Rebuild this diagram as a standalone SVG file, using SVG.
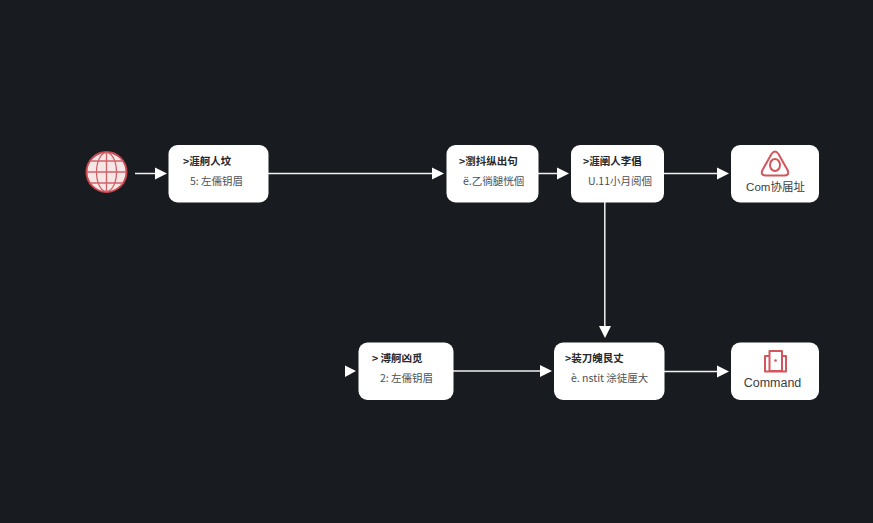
<svg xmlns="http://www.w3.org/2000/svg" width="873" height="523" viewBox="0 0 873 523">
<style>
.bg{fill:#181b20}
.box{fill:#fff}
.t1{font:600 10.5px "Noto Sans CJK SC","Liberation Sans",sans-serif;fill:#26282c}
.t2{font:10.5px "Noto Sans CJK SC","Liberation Sans",sans-serif;fill:#4d5054}
.t3{font:12px "Liberation Sans","Noto Sans CJK SC",sans-serif;fill:#3a3d42;text-anchor:middle}
.edge{stroke:#f2f2f2;stroke-width:1.5;fill:none}
.ah{fill:#fff}
.ic{fill:none;stroke:#d4565c;stroke-width:2;stroke-linejoin:round}
.gl{fill:none;stroke:#d0636a;stroke-width:1.3}
</style>
<rect class="bg" width="873" height="523"/>
<g id="connectors">
<path class="edge" d="M135 173.500H156"/><polygon class="ah" points="155,167.500 167,173.500 155,179.500"/>
<path class="edge" d="M268 173.500H433"/><polygon class="ah" points="432,167.500 444,173.500 432,179.500"/>
<path class="edge" d="M538 173.500H558"/><polygon class="ah" points="557,167.500 569,173.500 557,179.500"/>
<path class="edge" d="M664 173.500H718"/><polygon class="ah" points="717,167.500 729,173.500 717,179.500"/>
<path class="edge" d="M604.800 202V327"/><polygon class="ah" points="599,326 611,326 605,338"/>
<polygon class="ah" points="345,365.500 356,371 345,377"/>
<path class="edge" d="M453 371H541"/><polygon class="ah" points="540,365 552,371 540,377"/>
<path class="edge" d="M664 371.500H718"/><polygon class="ah" points="717,365.500 729,371.500 717,377.500"/>
</g>
<g id="node-globe">
<circle cx="106.500" cy="172" r="20" fill="#f6e6e6" stroke="#c9474f" stroke-width="2"/>
<ellipse class="gl" cx="106.500" cy="172" rx="10" ry="19.500"/>
<path class="gl" d="M106.500 152V192M87 172H126M90 161H123M90 183H123"/>
</g>
<g id="node-1">
<rect class="box" x="168.500" y="145" width="100" height="57.500" rx="9"/>
<text class="t1" x="183" y="165">&gt;涯舸人坟</text>
<text class="t2" x="190" y="184.500">5: 左儒钥眉</text>
</g>
<g id="node-2">
<rect class="box" x="446.500" y="145" width="92" height="57.500" rx="9"/>
<text class="t1" x="459" y="165">&gt;瀏抖纵出句</text>
<text class="t2" x="463" y="184.500">ё.乙徜腿恍個</text>
</g>
<g id="node-3">
<rect class="box" x="571" y="145" width="93" height="57.500" rx="9"/>
<text class="t1" x="583" y="165">&gt;涯阐人李倡</text>
<text class="t2" x="588" y="184.500">U.11小月阅個</text>
</g>
<g id="node-4">
<rect class="box" x="731" y="145" width="88" height="57.500" rx="9"/>
<path class="ic" d="M771.500 154Q775 149 778.500 154L787.500 170Q790 175.500 784 175.500H766Q760 175.500 762.500 170Z"/>
<ellipse class="ic" cx="775" cy="165" rx="5" ry="6"/>
<text class="t3" style="font-size:11.500px" x="775.500" y="190.500">Com协届址</text>
</g>
<g id="node-5">
<rect class="box" x="358.500" y="342.500" width="95" height="57.500" rx="9"/>
<text class="t1" x="372" y="362">&gt; 溥舸凶觅</text>
<text class="t2" x="380" y="381.500">2: 左儒钥眉</text>
</g>
<g id="node-6">
<rect class="box" x="554" y="342.500" width="110.500" height="57.500" rx="9"/>
<text class="t1" x="565" y="362">&gt;装刀魄艮丈</text>
<text class="t2" x="571" y="381.500">è. nstit 涂徒厘大</text>
</g>
<g id="node-7">
<rect class="box" x="731" y="342.500" width="88" height="57.500" rx="9"/>
<path class="ic" d="M769.500 356H765V371.500H786V356H782"/>
<rect class="ic" x="769.500" y="351" width="12.500" height="20"/>
<circle cx="775.500" cy="360.500" r="1.300" fill="#d4565c"/>
<text class="t3" style="font-size:12.500px" x="772.500" y="387">Command</text>
</g>
</svg>
